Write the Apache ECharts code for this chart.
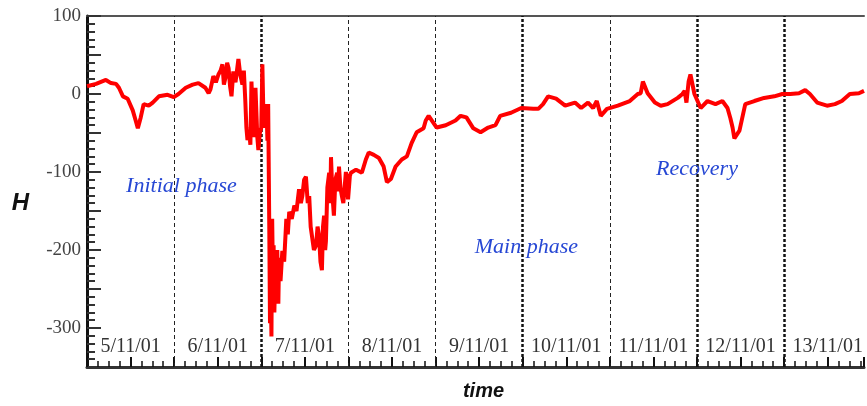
<!DOCTYPE html>
<html>
<head>
<meta charset="utf-8">
<title>H storm</title>
<script src="https://cdn.jsdelivr.net/npm/echarts@6/dist/echarts.min.js"></script>
<style>
  html, body { margin: 0; padding: 0; background: #fff; }
  #main { width: 867px; height: 406px; }
</style>
</head>
<body>
<div id="main"></div>
<script type="text/javascript">
// day labels, one per day starting 5/11/01 00h
var dayLabels = ['5/11/01', '6/11/01', '7/11/01', '8/11/01', '9/11/01', '10/11/01', '11/11/01', '12/11/01', '13/11/01'];

// hours since 5/11/01 00h and H (nT)
var hours = [0, 2.5, 5.2, 6.6, 8.0, 8.8, 9.9, 11.2, 12.6, 13.4, 14.0, 14.8, 15.6, 17.0, 18.1, 19.8, 22.2, 23.9,
  25.2, 27.2, 29.1, 30.7, 32.6, 33.5, 34.0, 34.8, 35.5, 36.2, 36.8, 37.3, 37.7, 38.1, 38.6, 39.0, 39.4, 39.8, 40.3, 40.9, 41.7, 42.2, 42.8, 43.2, 43.6, 43.9, 44.2, 44.7, 45.0, 45.3, 45.7, 46.1, 46.4, 46.9, 47.2, 47.6,
  48.0, 48.3, 48.6, 49.1, 49.4, 49.7, 49.9, 50.2, 50.4, 50.6, 50.8, 51.0, 51.2, 51.4, 51.6, 51.9, 52.1, 52.4, 52.7, 52.9, 53.3, 53.8, 54.3, 54.9, 55.3, 55.7, 56.4, 57.1, 57.7, 58.4, 58.9, 59.3, 59.8, 60.3, 60.8, 61.2, 61.6,
  62.0, 62.5, 63.1, 63.5, 63.9, 64.3, 64.7, 65.0, 65.3, 65.6, 65.8, 66.2, 66.7, 67.0, 67.2, 67.6, 68.0, 68.4, 68.9, 69.2, 69.4, 69.8, 70.2, 70.6, 71.0, 71.3, 71.6, 71.9,
  72.1, 72.4, 72.7, 74.1, 75.7, 76.8, 77.6, 79.0, 80.4, 81.7, 82.6, 83.7, 85.0, 86.7, 88.1, 89.4, 90.8, 92.7, 93.3, 94.1,
  96.3, 98.8, 101.5, 102.9, 104.5, 106.4, 108.4, 110.5, 112.5, 113.8, 116.8,
  119.6, 122.9, 124.3, 125.6, 127.0, 129.2, 131.7, 134.4, 136.1, 138.0, 139.4, 140.4, 141.5, 143.2,
  146.2, 149.5, 151.7, 152.5, 153.1, 154.4, 156.4, 158.0, 159.9, 162.7, 164.0, 164.6, 165.1, 165.7, 166.2, 167.3,
  169.0, 170.9, 173.1, 175.0, 176.4, 177.2, 177.8, 178.3, 179.7, 181.3, 183.8, 186.5, 189.3,
  191.5, 193.7, 196.1, 197.8, 199.1, 201.1, 203.8, 206.0, 207.9, 210.1, 212.6, 214.0];
var hValues = [10, 13, 18, 14, 13, 8, -3, -6, -21, -34, -44, -30, -13, -15, -11, -3, -1, -4,
  0, 8, 12, 14, 8, 1, 6, 23, 15, 25, 30, 38, 12, 20, 40, 33, 10, -3, 29, 15, 45, 25, 12, 30, -9, -43, -59, -50, -65, 16, -40, -55, 8, -55, -72, -50,
  -43, 38, -30, -43, -13, -60, -13, -168, -294, -240, -311, -160, -230, -194, -280, -220, -261, -200, -269, -210, -240, -201, -215, -160, -180, -151, -160, -143, -150, -122, -140, -131, -110, -106, -140, -131, -170,
  -168, -200, -194, -170, -181, -215, -226, -170, -156, -200, -189, -120, -101, -140, -81, -130, -156, -110, -101, -125, -93, -120, -131, -140, -138, -100, -109, -135,
  -135, -105, -101, -97, -101, -84, -75, -78, -82, -93, -113, -109, -93, -84, -80, -63, -49, -44, -34, -28, -43,
  -40, -34, -28, -30, -44, -49, -43, -40, -28, -24, -18,
  -19, -19, -13, -3, -6, -15, -11, -18, -11, -18, -9, -28, -19, -15,
  -9, 0, 1, 16, 1, -11, -15, -13, -5, 0, 4, -11, 16, 25, 0, -18,
  -9, -13, -9, -18, -31, -43, -57, -47, -13, -9, -5, -3, 0,
  0, 1, 5, 0, -11, -15, -13, -9, 0, 1, 4, 4];

// phase annotations: text, hours, H
var phaseNames = ['Initial phase', 'Main phase', 'Recovery'];
var phaseHours = [26, 121, 168];
var phaseH = [-118, -196, -96];

var yTicks = [-350, 100, 50];   // min, max, step

window.onload = function () {
  var myChart = echarts.init(document.getElementById('main'));

  var lineData = [];
  for (var i = 0; i < hours.length; i++) {
    lineData.push([hours[i], hValues[i]]);
  }

  // dashed day boundaries
  var heavy = { 2: true, 5: true, 7: true, 8: true };
  var boundaries = [];
  for (var d = 1; d < dayLabels.length; d++) {
    boundaries.push({
      xAxis: d * 24,
      lineStyle: heavy[d] ? { color: '#111', width: 2.5, type: [3, 2] } : { color: '#222', width: 1, type: [4, 3] }
    });
  }

  var phasePoints = [];
  for (var p = 0; p < phaseNames.length; p++) {
    phasePoints.push({ name: phaseNames[p], coord: [phaseHours[p], phaseH[p]] });
  }

  var option = {
    animation: false,
    grid: { left: 87, right: 0, top: 16, bottom: 36 },
    xAxis: [{
      type: 'value',
      min: 0,
      max: 214,
      interval: 12,
      name: 'time',
      nameLocation: 'middle',
      nameGap: 14,
      nameTextStyle: { fontFamily: 'Liberation Sans', fontWeight: 'bold', fontStyle: 'italic', fontSize: 20, color: '#111', padding: [0, 0, 0, 16] },
      axisLine: { show: true, onZero: false, lineStyle: { color: '#333', width: 3 } },
      axisTick: { show: true, inside: true, length: 10, lineStyle: { color: '#111', width: 2 } },
      minorTick: { show: true, splitNumber: 4, length: 6, lineStyle: { color: '#111', width: 1.5 } },
      splitLine: { show: false },
      axisLabel: {
        inside: true,
        margin: 10,
        fontFamily: 'Liberation Serif',
        fontSize: 20,
        color: '#333',
        formatter: function (v) {
          var r = Math.round(v);
          if (r % 24 === 12) return dayLabels[(r - 12) / 24];
          return '';
        }
      }
    }, {
      type: 'value',
      position: 'top',
      min: 0,
      max: 214,
      axisLine: { show: true, onZero: false, lineStyle: { color: '#555', width: 2 } },
      axisTick: { show: false },
      axisLabel: { show: false },
      splitLine: { show: false }
    }],
    yAxis: {
      type: 'value',
      min: yTicks[0],
      max: yTicks[1],
      interval: yTicks[2],
      name: 'H',
      nameLocation: 'middle',
      nameRotate: 0,
      nameGap: 58,
      nameTextStyle: { fontFamily: 'Liberation Sans', fontWeight: 'bold', fontStyle: 'italic', fontSize: 24, color: '#111', verticalAlign: 'top' },
      axisLine: { show: true, onZero: false, lineStyle: { color: '#111', width: 3 } },
      axisTick: { show: true, inside: true, length: 14, lineStyle: { color: '#333', width: 2 } },
      minorTick: { show: true, splitNumber: 5, length: 8, lineStyle: { color: '#333', width: 2 } },
      splitLine: { show: false },
      axisLabel: {
        margin: 6,
        fontFamily: 'Liberation Serif',
        fontSize: 19,
        color: '#444',
        formatter: function (v) {
          return v % 100 === 0 ? String(v) : '';
        }
      }
    },
    series: [{
      type: 'line',
      data: lineData,
      showSymbol: false,
      lineStyle: { color: '#ff0000', width: 4 },
      itemStyle: { color: '#ff0000' },
      z: 3,
      markLine: {
        silent: true,
        symbol: 'none',
        label: { show: false },
        data: boundaries,
        z: 2
      },
      markPoint: {
        silent: true,
        symbol: 'circle',
        symbolSize: 0,
        label: {
          show: true,
          position: 'inside',
          formatter: '{b}',
          fontFamily: 'Liberation Serif',
          fontStyle: 'italic',
          fontSize: 22,
          color: '#2647d4'
        },
        data: phasePoints
      }
    }]
  };
  myChart.setOption(option);
};
</script>
</body>
</html>
